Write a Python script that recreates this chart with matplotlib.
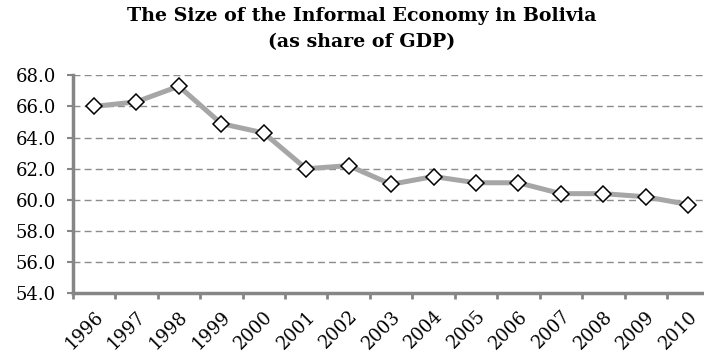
import matplotlib.pyplot as plt
import numpy as np

# Informal economy in Bolivia, % of GDP
years = ['1996', '1997', '1998', '1999', '2000', '2001', '2002', '2003',
         '2004', '2005', '2006', '2007', '2008', '2009', '2010']
share = [66.0, 66.3, 67.3, 64.9, 64.3, 62.0, 62.2, 61.0,
         61.5, 61.1, 61.1, 60.4, 60.4, 60.2, 59.7]
yticks = [54.0, 56.0, 58.0, 60.0, 62.0, 64.0, 66.0, 68.0]

plt.rcParams['font.family'] = 'DejaVu Serif'

fig = plt.figure(figsize=(7.04, 3.55), dpi=100)
ax = fig.add_axes([0.1033, 0.1738, 0.9044, 0.614])

x = np.arange(len(years))
ax.plot(x, share, color='#a6a6a6', linewidth=3.6, zorder=3,
        marker='D', markersize=8, markerfacecolor='white',
        markeredgecolor='black', markeredgewidth=1.1)

ax.set_xlim(-0.5, len(years) - 0.5)
ax.set_ylim(54, 68)
ax.set_yticks(yticks)
ax.set_yticklabels([f'{v:.1f}' for v in yticks], fontsize=13)
ax.yaxis.grid(True, linestyle=(0, (5, 3)), color='#8c8c8c', linewidth=1.0)
ax.set_axisbelow(True)

# category labels at centres, tick marks at boundaries
ax.set_xticks(x)
ax.set_xticklabels(years, fontsize=13, rotation=45, ha='right', va='top',
                   rotation_mode='anchor')
ax.tick_params(axis='x', which='major', length=0, pad=10)
ax.set_xticks(np.arange(-0.5, len(years)), minor=True)
ax.tick_params(axis='x', which='minor', length=4, width=2, color='#868686',
               direction='out')
ax.tick_params(axis='y', length=4, width=1.5, color='#868686', pad=8)

for side in ['top', 'right']:
    ax.spines[side].set_visible(False)
for side in ['left', 'bottom']:
    ax.spines[side].set_color('#868686')
    ax.spines[side].set_linewidth(2.5)

fig.text(0.5135, 0.98, 'The Size of the Informal Economy in Bolivia\n(as share of GDP)',
         ha='center', va='top', fontsize=13.7, fontweight='bold',
         linespacing=1.55)

fig.savefig('out.png', dpi=100, facecolor='white')
